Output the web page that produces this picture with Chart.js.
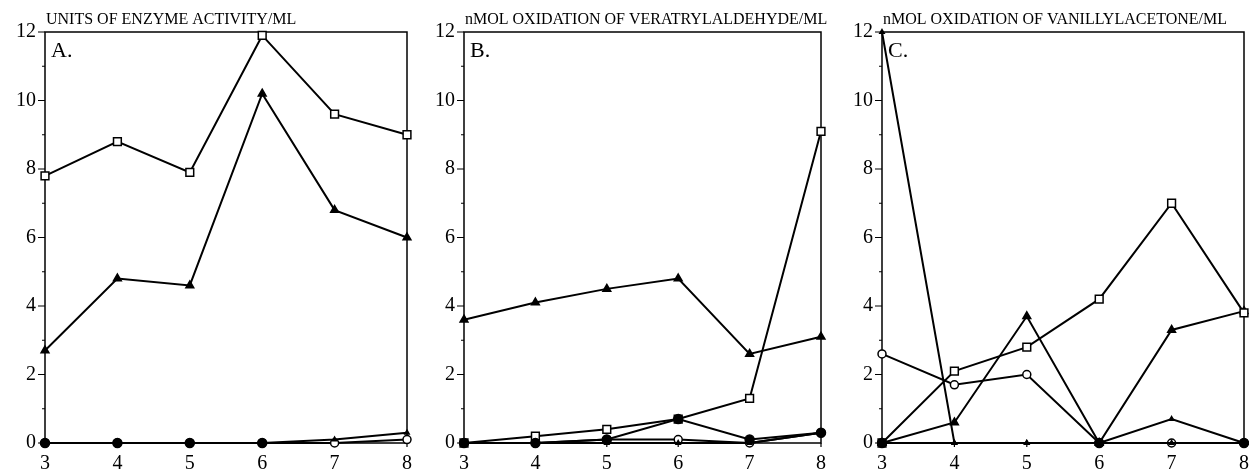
<!DOCTYPE html>
<html>
<head>
<meta charset="utf-8">
<script src="https://cdn.jsdelivr.net/npm/chart.js@4"></script>
<style>
  html, body { margin: 0; background: #fff; overflow: hidden; }
  #wrap { position: relative; width: 1249px; height: 474px; overflow: hidden; }
  canvas { position: absolute; top: 0; }
</style>
</head>
<body>
<div id="wrap">
  <canvas id="panel-a" width="421" height="474" style="left:0px"></canvas>
  <canvas id="panel-b" width="415" height="474" style="left:420px"></canvas>
  <canvas id="panel-c" width="423" height="474" style="left:835px"></canvas>
</div>
<script>
const days = [3, 4, 5, 6, 7, 8];
const yTicks = [0, 1, 2, 3, 4, 5, 6, 7, 8, 9, 10, 11, 12];

// panel A - units of enzyme activity/ml
const aSquare = [7.8, 8.8, 7.9, 11.9, 9.6, 9.0];
const aTriangle = [2.7, 4.8, 4.6, 10.2, 6.8, 6.0];
const aOpenCircle = [0, 0, 0, 0, 0, 0.1];
const aFilledCircle = [0, 0, 0, 0, null, null];
const aSmall = [0, 0, 0, 0, 0.1, 0.3];

// panel B - veratrylaldehyde
const bSquare = [0, 0.2, 0.4, 0.7, 1.3, 9.1];
const bTriangle = [3.6, 4.1, 4.5, 4.8, 2.6, 3.1];
const bOpenCircle = [0, 0, 0.1, 0.1, 0, 0.3];
const bFilledCircle = [0, 0, 0.1, 0.7, 0.1, 0.3];
const bSmall = [0, 0, 0, 0, 0, 0.3];

// panel C - vanillylacetone
const cSquare = [0, 2.1, 2.8, 4.2, 7.0, 3.8];
const cTriangle = [0, 0.6, 3.7, 0, 3.3, 3.85];
const cOpenCircle = [2.6, 1.7, 2.0, 0, 0, 0];
const cFilledCircle = [0, null, null, 0, null, 0];
const cSmall = [12, 0, 0, 0, 0, 0];
const cSmall2 = [0, 0, 0, 0, 0.7, 0];

const serif = '"Liberation Serif", "Times New Roman", serif';

const decor = {
  id: "decor",
  beforeDatasetsDraw(chart) {
    const { ctx, chartArea: a, scales } = chart;
    ctx.save();
    ctx.strokeStyle = "#000";
    ctx.lineWidth = 1.5;
    ctx.strokeRect(a.left, a.top, a.right - a.left, a.bottom - a.top);
    ctx.lineWidth = 1.2;
    ctx.beginPath();
    yTicks.forEach((v) => {
      const py = scales.y.getPixelForValue(v);
      const len = v % 2 ? 3 : 7;
      ctx.moveTo(a.left - len, py);
      ctx.lineTo(a.left, py);
    });
    days.forEach((d) => {
      const px = scales.x.getPixelForValue(d);
      ctx.moveTo(px, a.bottom);
      ctx.lineTo(px, a.bottom + 4);
    });
    ctx.stroke();
    ctx.restore();
  },
  afterDraw(chart, args, opts) {
    const { ctx, chartArea: a } = chart;
    ctx.save();
    ctx.fillStyle = "#000";
    ctx.textBaseline = "alphabetic";
    ctx.textAlign = "left";
    ctx.font = "16px " + serif;
    ctx.fillText(opts.title, a.left + 1, 24);
    ctx.font = "22px " + serif;
    ctx.fillText(opts.label, a.left + 6, 57);
    ctx.restore();
  }
};

function series(data, style) {
  const base = {
    data: data,
    borderColor: "#000",
    borderWidth: 2,
    pointBorderColor: "#000",
    pointBorderWidth: 1.5,
    clip: false,
    spanGaps: style === "filled",
    tension: 0
  };
  if (style === "square") {
    return Object.assign(base, { pointStyle: "rect", pointRadius: 5.5, pointBackgroundColor: "#fff" });
  }
  if (style === "triangle") {
    return Object.assign(base, { pointStyle: "triangle", pointRadius: 4.5, pointBackgroundColor: "#000" });
  }
  if (style === "open") {
    return Object.assign(base, { pointStyle: "circle", pointRadius: 4, pointBackgroundColor: "#fff" });
  }
  if (style === "filled") {
    return Object.assign(base, { pointStyle: "circle", pointRadius: 4.5, pointBackgroundColor: "#000" });
  }
  return Object.assign(base, { pointStyle: "triangle", pointRadius: 2.5, pointBackgroundColor: "#000" });
}

function makePanel(id, yWidth, padRight, title, label, sets) {
  new Chart(document.getElementById(id), {
    type: "line",
    data: {
      labels: days,
      datasets: sets.map((s) => series(s[0], s[1]))
    },
    options: {
      responsive: false,
      animation: false,
      layout: { padding: { top: 32, right: padRight, left: 0, bottom: 0 } },
      plugins: {
        legend: { display: false },
        tooltip: { enabled: false },
        decor: { title: title, label: label }
      },
      scales: {
        x: {
          type: "linear",
          min: 3,
          max: 8,
          afterFit: (s) => { s.height = 31; },
          afterBuildTicks: (s) => { s.ticks = days.map((d) => ({ value: d })); },
          border: { display: false },
          grid: { display: false, drawTicks: false },
          ticks: { color: "#000", padding: 9, font: { family: serif, size: 20 } }
        },
        y: {
          min: 0,
          max: 12,
          afterFit: (s) => { s.width = yWidth; },
          afterBuildTicks: (s) => { s.ticks = yTicks.filter((v) => v % 2 === 0).map((v) => ({ value: v })); },
          border: { display: false },
          grid: { display: false, drawTicks: false },
          ticks: { color: "#000", padding: 9, font: { family: serif, size: 20 } }
        }
      }
    },
    plugins: [decor]
  });
}

makePanel("panel-a", 45, 12, "UNITS OF ENZYME ACTIVITY/ML", "A.", [
  [aFilledCircle, "filled"], [aSmall, "small"], [aOpenCircle, "open"],
  [aSquare, "square"], [aTriangle, "triangle"]
]);
makePanel("panel-b", 44, 13, "nMOL OXIDATION OF VERATRYLALDEHYDE/ML", "B.", [
  [bFilledCircle, "filled"], [bSmall, "small"], [bOpenCircle, "open"],
  [bSquare, "square"], [bTriangle, "triangle"]
]);
makePanel("panel-c", 47, 4, "nMOL OXIDATION OF VANILLYLACETONE/ML", "C.", [
  [cFilledCircle, "filled"], [cSmall, "small"], [cSmall2, "small"],
  [cOpenCircle, "open"], [cSquare, "square"], [cTriangle, "triangle"]
]);
</script>
</body>
</html>
